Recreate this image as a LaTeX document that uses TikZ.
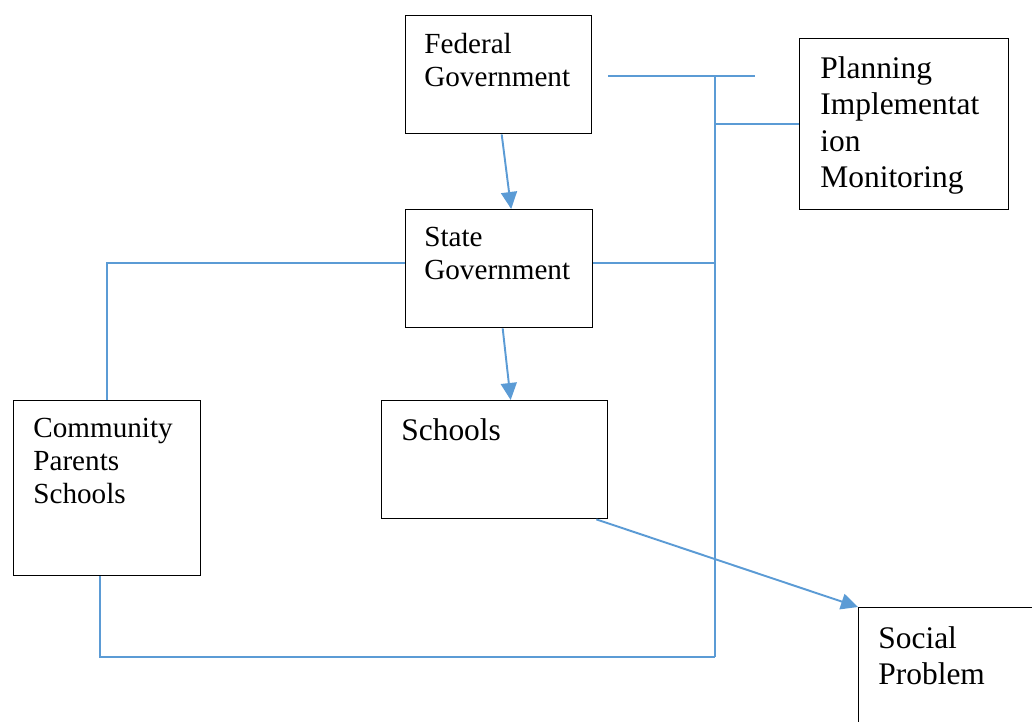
\documentclass[tikz,border=0pt]{standalone}
\usepackage{fontspec}
\setmainfont{Liberation Serif}
\usetikzlibrary{arrows.meta,positioning}
\definecolor{lineblue}{RGB}{91,155,213}
\begin{document}
\begin{tikzpicture}[x=0.02cm,y=-0.02cm,>={Triangle[length=0.34cm,width=0.32cm]}]
  \tikzset{box/.style={draw,line width=0.8pt,inner sep=0pt,anchor=north west},
           txt/.style={inner sep=0pt,align=left,font=\fontsize{16.6}{18.7}\selectfont},
           bigtxt/.style={txt,font=\fontsize{17.9}{20.8}\selectfont},
           link/.style={lineblue,line width=1.1pt},
           arr/.style={link,->}}
  \useasboundingbox (0,0) rectangle (1032,721);
  \node[box,minimum width=3.72cm,minimum height=2.36cm] (fed) at (405,15) {};
  \node[box,minimum width=4.18cm,minimum height=3.42cm] (plan) at (799,38) {};
  \node[box,minimum width=3.74cm,minimum height=2.36cm] (state) at (405,209) {};
  \node[box,minimum width=4.52cm,minimum height=2.36cm] (school) at (381,400) {};
  \node[box,minimum width=3.74cm,minimum height=3.5cm] (comm) at (13,400) {};
  \node[box,minimum width=4.2cm,minimum height=2.8cm] (social) at (858,607) {};
  \node[txt,below right=0.36cm and 0.38cm of fed.north west] (fedtext) {Federal\\Government};
  \node[bigtxt,below right=0.36cm and 0.42cm of plan.north west] (plantext) {Planning\\Implementat\\ion\\Monitoring};
  \node[txt,below right=0.36cm and 0.38cm of state.north west] (statetext) {State\\Government};
  \node[bigtxt,below right=0.36cm and 0.4cm of school.north west] (schooltext) {Schools};
  \node[txt,below right=0.36cm and 0.4cm of comm.north west] (commtext) {Community\\Parents\\Schools};
  \node[bigtxt,below right=0.38cm and 0.4cm of social.north west] (socialtext) {Social\\Problem};
  \coordinate (bustop) at (715,76);
  \coordinate (busend) at (755,76);
  \coordinate (busbot) at (715,657);
  \draw[link] ([xshift=0.32cm]fed.east |- busend) -- (busend);
  \draw[link] (bustop) -- (busbot);
  \draw[link] (bustop |- plan.west) -- (plan.west);
  \draw[link] ([yshift=0.12cm]state.east) -| (busbot);
  \draw[link] ([yshift=0.12cm]state.west) -| (comm.north);
  \draw[link] ([xshift=-0.15cm]comm.south) |- (busbot);
  \draw[arr] ([xshift=0.06cm]fed.south) -- ([xshift=0.24cm]state.north);
  \draw[arr] ([xshift=0.07cm]state.south) -- ([xshift=0.32cm]school.north);
  \draw[arr] ([xshift=-0.24cm]school.south east) -- (social.north west);
\end{tikzpicture}
\end{document}
